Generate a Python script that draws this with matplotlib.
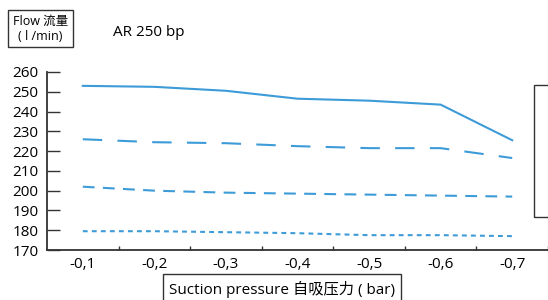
import matplotlib
matplotlib.use('Agg')
import matplotlib.pyplot as plt
from matplotlib.patches import Rectangle

pressure = ['-0,1', '-0,2', '-0,3', '-0,4', '-0,5', '-0,6', '-0,7']
flow_a = [253, 252.5, 250.5, 246.5, 245.5, 243.5, 225.5]
flow_b = [226, 224.5, 224, 222.5, 221.5, 221.5, 216.5]
flow_c = [202, 200, 199, 198.5, 198, 197.5, 197]
flow_d = [179.5, 179.5, 179, 178.5, 177.5, 177.5, 177]
yticks = [170, 180, 190, 200, 210, 220, 230, 240, 250, 260]

plt.rcParams['font.family'] = ['Open Sans', 'Noto Sans CJK SC', 'DejaVu Sans']
plt.rcParams['lines.scale_dashes'] = False

blue = '#3d9bd8'
dark = '#333333'

fig = plt.figure(figsize=(5.48, 3.0), dpi=100)
ax = fig.add_axes([47 / 548, 50 / 300, 1 - 47 / 548, 178 / 300])

x = list(range(len(pressure)))
ax.plot(x, flow_a, color=blue, lw=1.5)
ax.plot(x, flow_b, color=blue, lw=1.5, dashes=(14, 11))
ax.plot(x, flow_c, color=blue, lw=1.5, dashes=(8.5, 6))
ax.plot(x, flow_d, color=blue, lw=1.5, dashes=(3.5, 3))

ax.set_xlim(-0.5, 6.5)
ax.set_ylim(170, 260)
ax.set_xticks(x)
ax.set_xticklabels(pressure)
ax.set_xticks([i + 0.5 for i in range(7)], minor=True)
ax.set_yticks(yticks)
ax.tick_params(axis='x', which='major', length=0, pad=5, labelsize=11, colors='black')
ax.tick_params(axis='x', which='minor', direction='in', length=3, width=1, color=dark)
ax.tick_params(axis='y', direction='in', length=9, width=1, color=dark, pad=6, labelsize=11)

for s in ['top', 'right']:
    ax.spines[s].set_visible(False)
for s in ['left', 'bottom']:
    ax.spines[s].set_color(dark)
    ax.spines[s].set_linewidth(1.3)


def fig_box(x0, y0, x1, y1):
    # box in pixel coords (top-left origin)
    fig.patches.append(Rectangle((x0 / 548, 1 - y1 / 300), (x1 - x0) / 548, (y1 - y0) / 300,
                                 transform=fig.transFigure, fill=False, ec=dark,
                                 lw=1, clip_on=False))


fig_box(8, 10, 73, 47)
fig.text(40.5 / 548, 1 - 29 / 300, 'Flow 流量\n( l /min)', ha='center', va='center',
         fontsize=9, linespacing=1.25)
fig.text(148.5 / 548, 1 - 32 / 300, 'AR 250 bp', ha='center', va='center', fontsize=11)

fig_box(163, 274, 401, 310)
fig.text(282 / 548, 1 - 289 / 300, 'Suction pressure 自吸压力 ( bar)', ha='center',
         va='center', fontsize=11)

fig_box(534, 85, 570, 217)

fig.savefig('out.png', dpi=100)
